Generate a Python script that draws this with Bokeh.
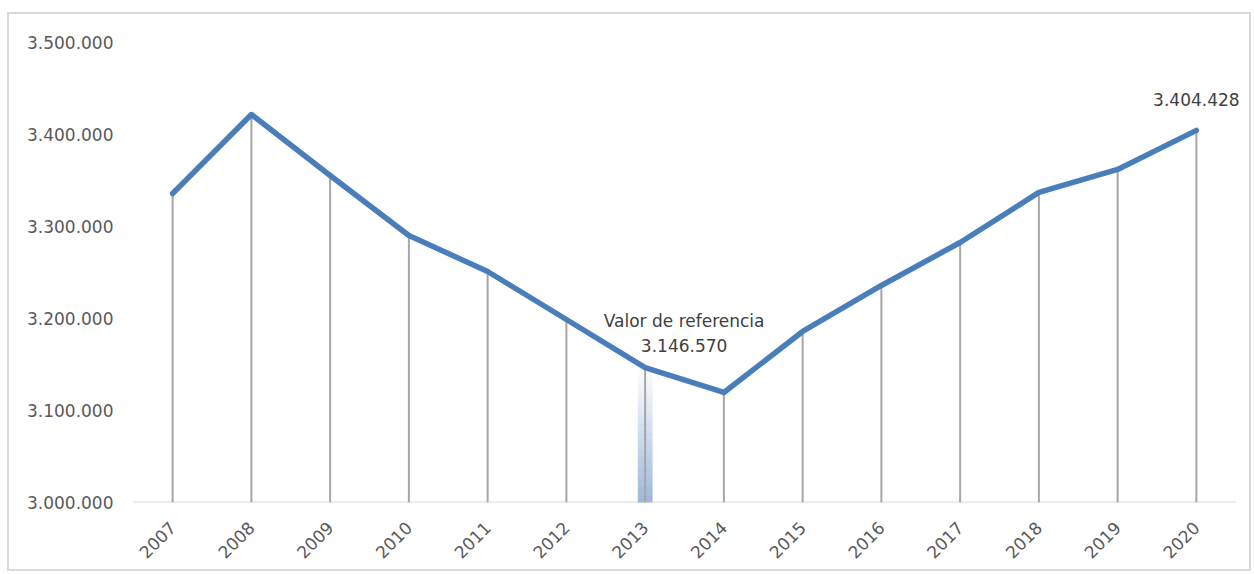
import numpy as np
from bokeh.plotting import figure
from bokeh.models import Range1d, FactorRange, CustomJSTickFormatter, ColumnDataSource, Label
from bokeh.embed import file_html
from bokeh.resources import INLINE

years = ["2007", "2008", "2009", "2010", "2011", "2012", "2013",
         "2014", "2015", "2016", "2017", "2018", "2019", "2020"]
values = [3335900, 3421700, 3355400, 3290200, 3251100, 3198900, 3146570,
          3119600, 3185900, 3235900, 3282600, 3337000, 3362000, 3404428]
y_ticks = [3000000, 3100000, 3200000, 3300000, 3400000, 3500000]
baseline = 3000000
ref_year = "2013"
ref_label = "Valor de referencia"
last_year = "2020"

def fmt(v):
    return f"{v:,}".replace(",", ".")

def fx(year):
    # synthetic (numeric) coordinate of a factor's centre on the FactorRange
    return years.index(year) + 0.5

FONT = "DejaVu Sans"
TXT = "#595959"

xr = FactorRange(*years, range_padding=0.2, range_padding_units="absolute")
p = figure(x_range=xr, y_range=Range1d(3000000, 3522800),
           width=1244, height=559, output_backend="svg", toolbar_location=None,
           min_border_left=108, min_border_right=2, min_border_top=7, min_border_bottom=71,
           margin=(12, 0, 0, 7))
p.styles = {"border": "2px solid #d9d9d9", "box-sizing": "border-box"}
p.outline_line_color = None
p.xgrid.grid_line_color = None
p.ygrid.grid_line_color = None
p.background_fill_color = "white"
p.border_fill_color = "white"

# y axis
p.yaxis.ticker = y_ticks
p.yaxis.axis_line_color = None
p.yaxis.major_tick_line_color = None
p.yaxis.minor_tick_line_color = None
p.yaxis.major_tick_out = 0
p.yaxis.major_label_standoff = 4
p.yaxis.major_label_text_font = FONT
p.yaxis.major_label_text_font_size = "17px"
p.yaxis.major_label_text_color = TXT
p.yaxis.formatter = CustomJSTickFormatter(
    code="return Math.round(tick).toString().replace(/\\B(?=(\\d{3})+(?!\\d))/g, '.');")

# x axis (its line is drawn as a baseline segment spanning the categories only)
p.xaxis.axis_line_color = None
p.xaxis.major_tick_line_color = None
p.xaxis.minor_tick_line_color = None
p.xaxis.major_label_orientation = np.pi / 4
p.xaxis.major_label_standoff = 16
p.xaxis.major_label_text_font = FONT
p.xaxis.major_label_text_font_size = "17px"
p.xaxis.major_label_text_color = TXT

p.segment(x0=[0], y0=[baseline], x1=[len(years)], y1=[baseline],
          line_color="#d9d9d9", line_width=2)

# gradient highlight bar at the reference year
ref_val = values[years.index(ref_year)]
n = 60
edges = np.linspace(baseline, ref_val, n + 1)
c0 = np.array([157, 182, 218])
c1 = np.array([255, 255, 255])
cols = []
for i in range(n):
    t = (i + 0.5) / n
    c = (c0 * (1 - t) + c1 * t).astype(int)
    cols.append("#%02x%02x%02x" % tuple(c))
p.vbar(x=[ref_year] * n, bottom=edges[:-1], top=edges[1:], width=0.18,
       fill_color=cols, line_color=cols, line_width=0.5)

# drop lines
src = ColumnDataSource(dict(x=years, y=values, b=[baseline] * len(years)))
p.segment(x0="x", y0="b", x1="x", y1="y", source=src, line_color="#a6a6a6", line_width=2)

# main line
p.line(x="x", y="y", source=src, line_color="#4a7ebb", line_width=5.5,
       line_cap="round", line_join="round")

# labels
last_val = values[years.index(last_year)]
lab_style = dict(text_align="center", text_baseline="alphabetic", text_font=FONT,
                 text_font_size="17px", text_color="#404040")
p.add_layout(Label(x=fx(last_year), y=last_val, text=fmt(last_val), y_offset=31, **lab_style))
p.add_layout(Label(x=fx(ref_year), y=ref_val, text=ref_label, x_offset=39, y_offset=47, **lab_style))
p.add_layout(Label(x=fx(ref_year), y=ref_val, text=fmt(ref_val), x_offset=39, y_offset=22, **lab_style))

open("out.html", "w").write(file_html(p, INLINE))
